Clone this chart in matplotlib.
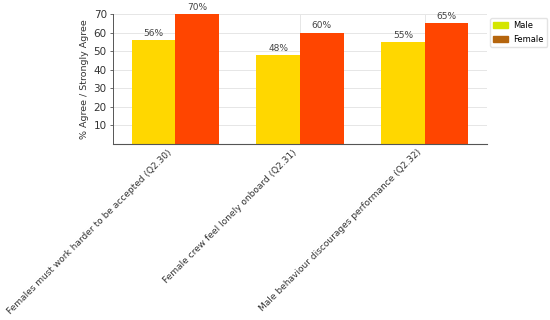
import numpy as np
import matplotlib
matplotlib.use("Agg")
import matplotlib.pyplot as plt
import matplotlib.transforms as mtransforms
from matplotlib.patches import Patch

# data
questions = [
    "Females must work harder to be accepted (Q2.30)",
    "Female crew feel lonely onboard (Q2.31)",
    "Male behaviour discourages performance (Q2.32)",
]
male = [56, 48, 55]
female = [70, 60, 65]

x = np.arange(len(questions))
width = 0.35

fig = plt.figure(figsize=(5.5, 3.2), dpi=100)
ax = fig.add_axes([113 / 550, 1 - 144 / 320, (487 - 113) / 550, (144 - 14) / 320])

ax.set_axisbelow(True)
ax.grid(True, color="#e6e6e6", linewidth=0.7)

b1 = ax.bar(x - width / 2, male, width, color="#FFD700")
b2 = ax.bar(x + width / 2, female, width, color="#FF4500")

for bars in (b1, b2):
    for r in bars:
        h = r.get_height()
        ax.text(r.get_x() + r.get_width() / 2, h + 1.2, f"{h:.0f}%",
                ha="center", va="bottom", fontsize=6.5, color="#444444")

ax.set_xlim(-0.5, 2.5)
ax.set_ylim(0, 70)
ax.set_yticks([10, 20, 30, 40, 50, 60, 70])
ax.tick_params(axis="y", labelsize=7.5, length=2.5, width=0.6, pad=2,
               color="#555555", labelcolor="#333333")
ax.tick_params(axis="x", length=0, pad=2)
ax.set_xticks(x)
ax.set_xticklabels(questions, rotation=45, ha="right", rotation_mode="anchor",
                   fontsize=6.5, color="#333333")
# shift labels a bit left, as in the reference
offset = mtransforms.ScaledTranslation(-8 / 100, -1 / 100, fig.dpi_scale_trans)
for lab in ax.get_xticklabels():
    lab.set_transform(lab.get_transform() + offset)
ax.set_ylabel("% Agree / Strongly Agree", fontsize=6.8, labelpad=3, color="#333333")

for s in ("top", "right"):
    ax.spines[s].set_visible(False)
ax.spines["left"].set_color("#555555")
ax.spines["bottom"].set_color("#555555")
ax.spines["left"].set_linewidth(0.7)

handles = [Patch(color="#D4E600", label="Male"), Patch(color="#B5650D", label="Female")]
fig.legend(handles=handles, loc="upper left", bbox_to_anchor=(490 / 550, 1 - 18 / 320),
           fontsize=6, frameon=True, edgecolor="#dddddd", handlelength=1.8,
           handletextpad=0.6, borderpad=0.4, labelspacing=0.5, borderaxespad=0)

fig.savefig("out.png", dpi=100)
